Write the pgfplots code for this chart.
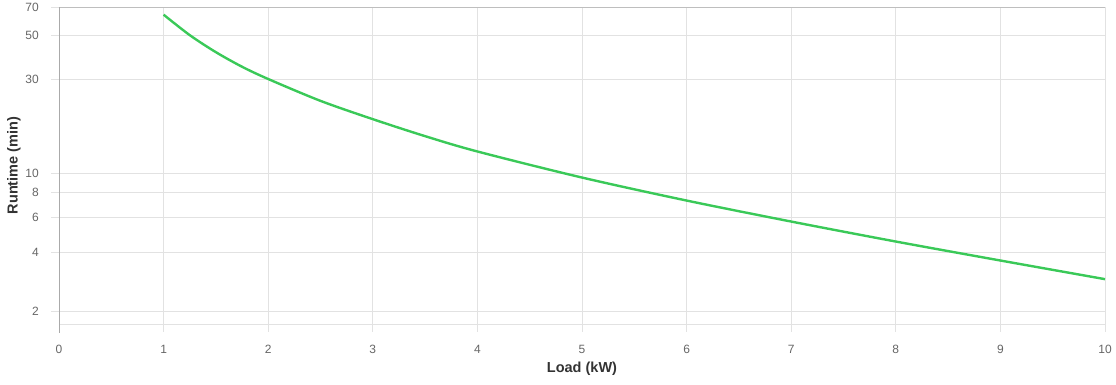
\documentclass[border=0pt]{standalone}
\usepackage{pgfplots}
\pgfplotsset{compat=1.18}
\usepackage{fontspec}
\setmainfont{Liberation Sans}
\definecolor{gridc}{RGB}{226,226,226}
\definecolor{axc}{RGB}{170,170,170}
\definecolor{topc}{RGB}{190,190,190}
\definecolor{tickc}{RGB}{102,102,102}
\definecolor{labc}{RGB}{51,51,51}
\definecolor{linec}{RGB}{58,201,88}
\begin{document}
\begin{tikzpicture}
\useasboundingbox (-59pt,-61pt) rectangle (1057pt,324pt);
\begin{axis}[
  at={(0,0)}, anchor=south west,
  scale only axis, width=1046pt, height=317pt,
  xmin=0, xmax=10, ymode=log, ymin=1.73, ymax=70,
  xtick={0,1,2,3,4,5,6,7,8,9,10},
  xticklabels={0,1,2,3,4,5,6,7,8,9,10},
  ytick={2,4,6,8,10,30,50,70},
  yticklabels={2,4,6,8,10,30,50,70},
  minor ytick={},
  grid=major,
  major grid style={draw=gridc, line width=0.8pt},
  axis line style={draw=none},
  tick align=outside, major tick length=8pt,
  xtick pos=bottom, ytick pos=left,
  tick style={draw=gridc, line width=0.8pt},
  ticklabel style={font=\fontsize{12}{14}\selectfont, text=tickc},
  yticklabel style={inner sep=0pt, anchor=east, xshift=-12pt},
  xticklabel style={inner sep=0pt, anchor=north, yshift=-13.3pt},
  xlabel={Load (kW)}, ylabel={Runtime (min)},
  every axis x label/.style={at={(axis description cs:0.5,0)}, yshift=-45pt, anchor=center, font=\fontsize{14.5}{16}\selectfont\bfseries, text=labc},
  every axis y label/.style={at={(axis description cs:0,0.5)}, xshift=-45pt, rotate=90, anchor=center, font=\fontsize{14.5}{16}\selectfont\bfseries, text=labc},
  clip=false,
]
\draw[gridc, line width=0.8pt] (axis description cs:0,0) -- (axis description cs:1,0) -- (axis description cs:1,1);
\draw[topc, line width=0.8pt] (axis description cs:0,1) -- (axis description cs:1,1);
\draw[axc, line width=0.9pt] ([yshift=-9pt]axis description cs:0,0) -- (axis description cs:0,1);
\addplot[linec, line width=2.4pt, smooth, no marks] coordinates {
(1,64.0) (1.25,50.4) (1.5,41.3) (1.75,34.85) (2,30.2) (2.5,23.4) (3,18.9) (3.5,15.5) (4,12.96) (5,9.56) (6,7.31) (7,5.72) (8,4.53) (9,3.63) (10,2.92)
};
\end{axis}
\end{tikzpicture}
\end{document}
